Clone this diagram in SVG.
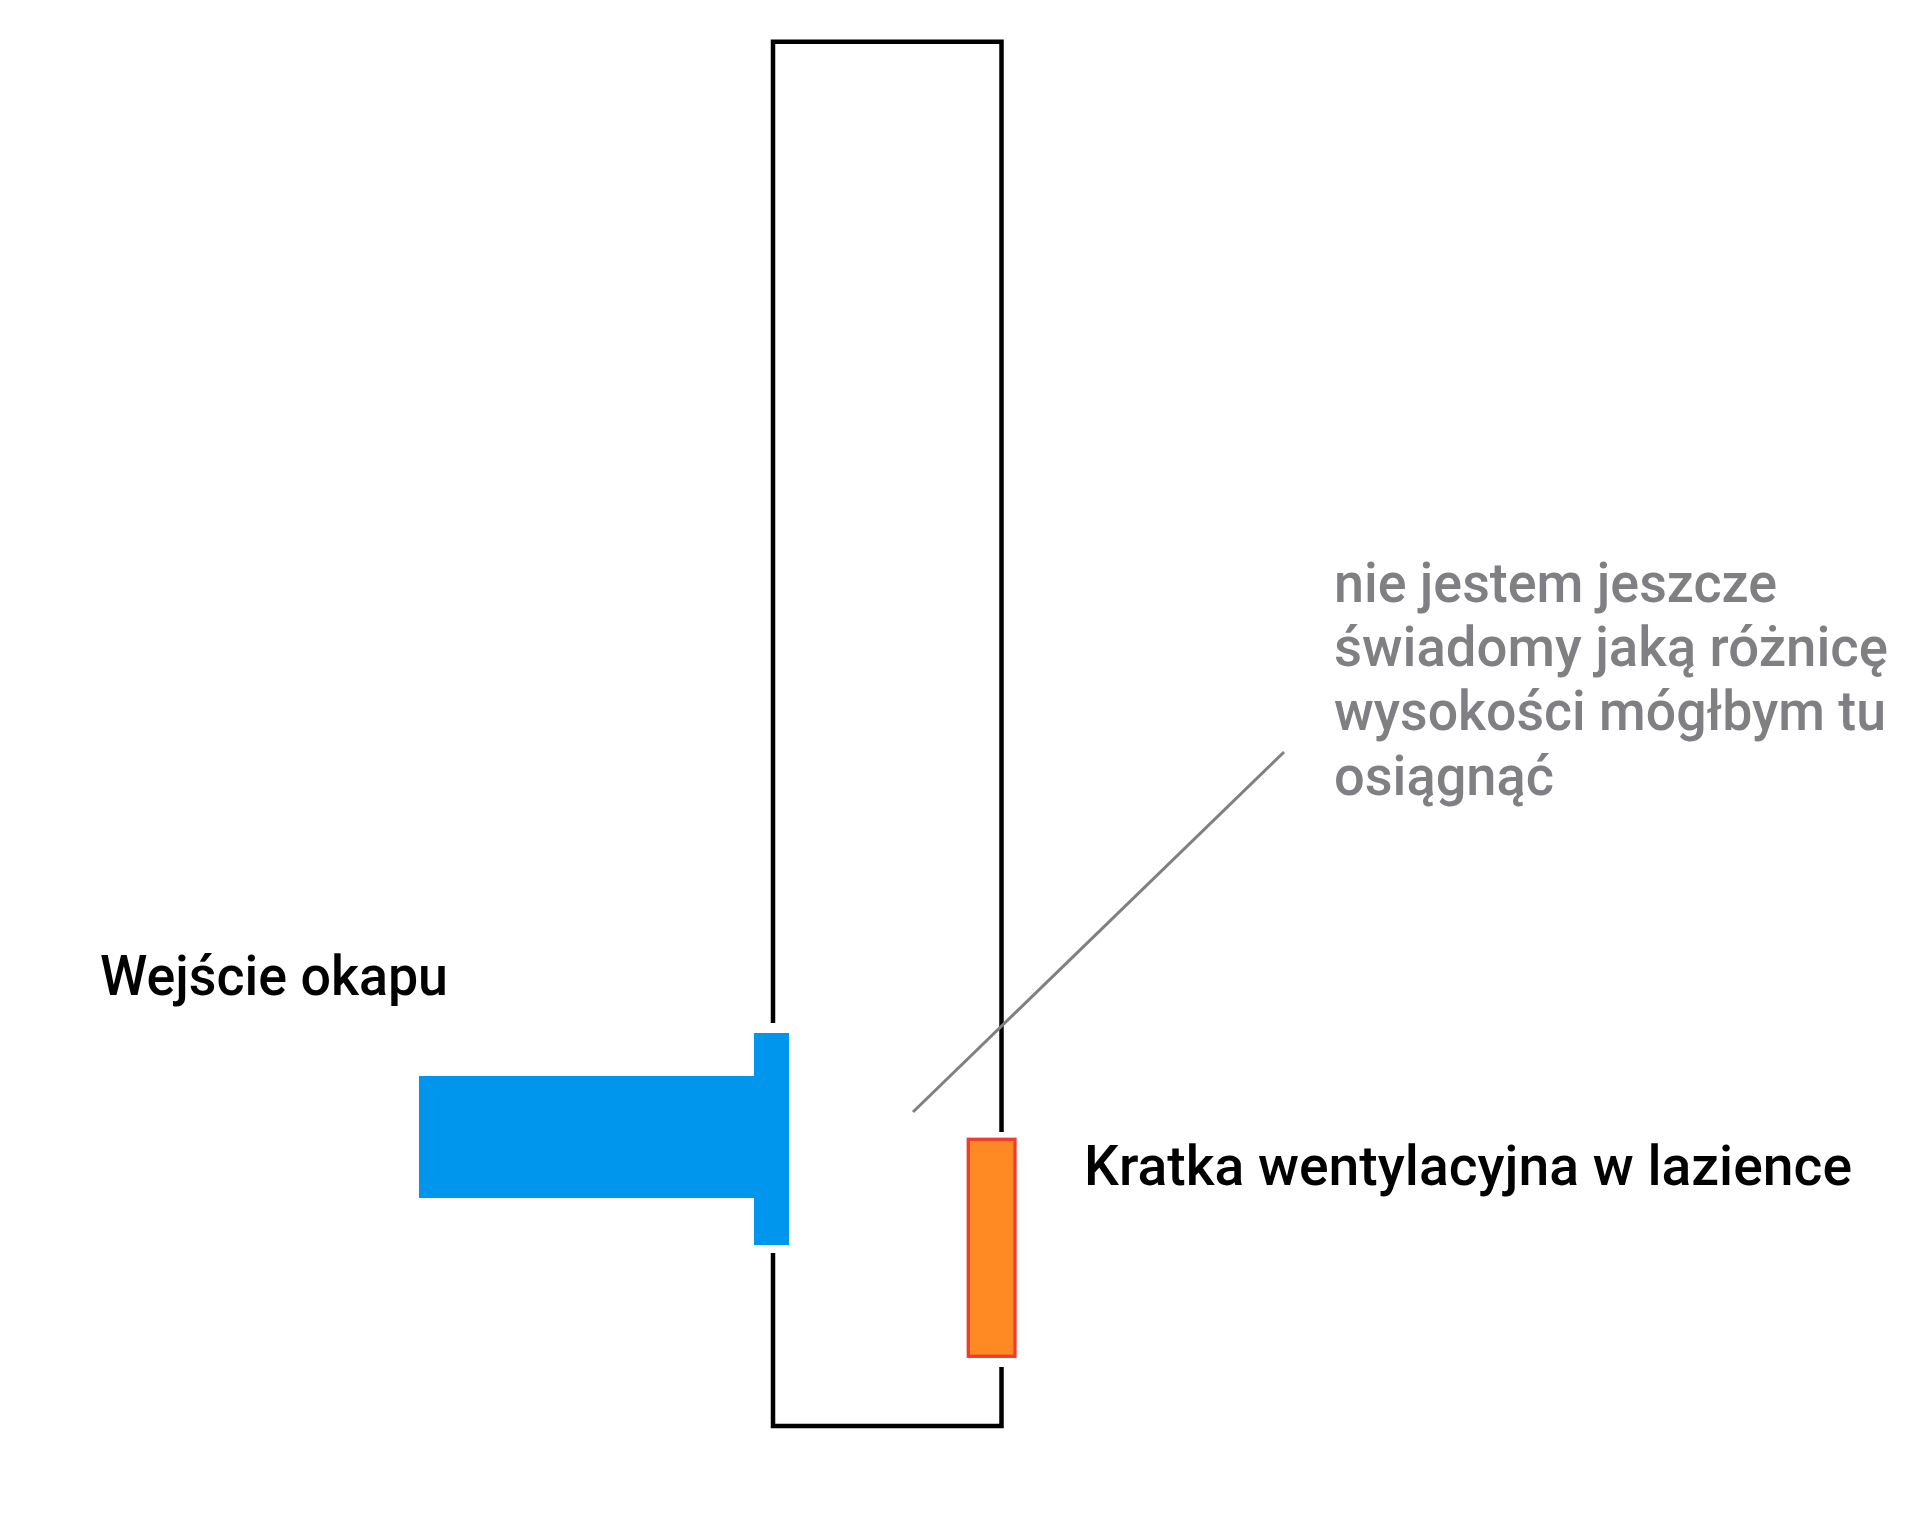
<svg xmlns="http://www.w3.org/2000/svg" width="1920" height="1530" viewBox="0 0 1920 1530">
<style>
.wall{fill:none;stroke:#000;stroke-width:4.5;stroke-linejoin:miter;stroke-linecap:butt}
.blue{fill:#0096ED}
.grate{fill:#FF8A24;stroke:#F03C2C;stroke-width:3.3}
.lbl{font-family:Roboto,"DejaVu Sans","Liberation Sans",sans-serif;font-size:56px;font-weight:500;fill:#000}
.note{font-family:Roboto,"DejaVu Sans","Liberation Sans",sans-serif;font-size:55px;font-weight:500;fill:#808084}
.leader{stroke:#808080;stroke-width:3;fill:none}
</style>
<rect width="1920" height="1530" fill="#FFFFFF"/>
<g id="shaft">
<path class="wall" d="M773,1023 V41.7 H1001.5 V1132"/>
<path class="wall" d="M773,1253 V1426 H1001.5 V1367"/>
</g>
<g id="hood-inlet">
<rect class="blue" x="419" y="1076" width="335" height="122"/>
<rect class="blue" x="754" y="1033" width="35" height="212"/>
</g>
<g id="vent-grate">
<rect class="grate" x="968.3" y="1139.3" width="46.7" height="217"/>
</g>
<g id="connectors">
<line class="leader" x1="913" y1="1112" x2="1284" y2="752"/>
</g>
<g id="label-inlet">
<text class="lbl" x="100" y="995" textLength="348" lengthAdjust="spacingAndGlyphs">Wejście okapu</text>
</g>
<g id="label-grate">
<text class="lbl" x="1084" y="1185" textLength="768" lengthAdjust="spacingAndGlyphs">Kratka wentylacyjna w lazience</text>
</g>
<g id="note">
<text class="note" x="1334" y="602" textLength="443" lengthAdjust="spacingAndGlyphs">nie jestem jeszcze</text>
<text class="note" x="1334" y="666" textLength="554" lengthAdjust="spacingAndGlyphs">świadomy jaką różnicę</text>
<text class="note" x="1334" y="730" textLength="552" lengthAdjust="spacingAndGlyphs">wysokości mógłbym tu</text>
<text class="note" x="1334" y="795" textLength="220" lengthAdjust="spacingAndGlyphs">osiągnąć</text>
</g>
</svg>
